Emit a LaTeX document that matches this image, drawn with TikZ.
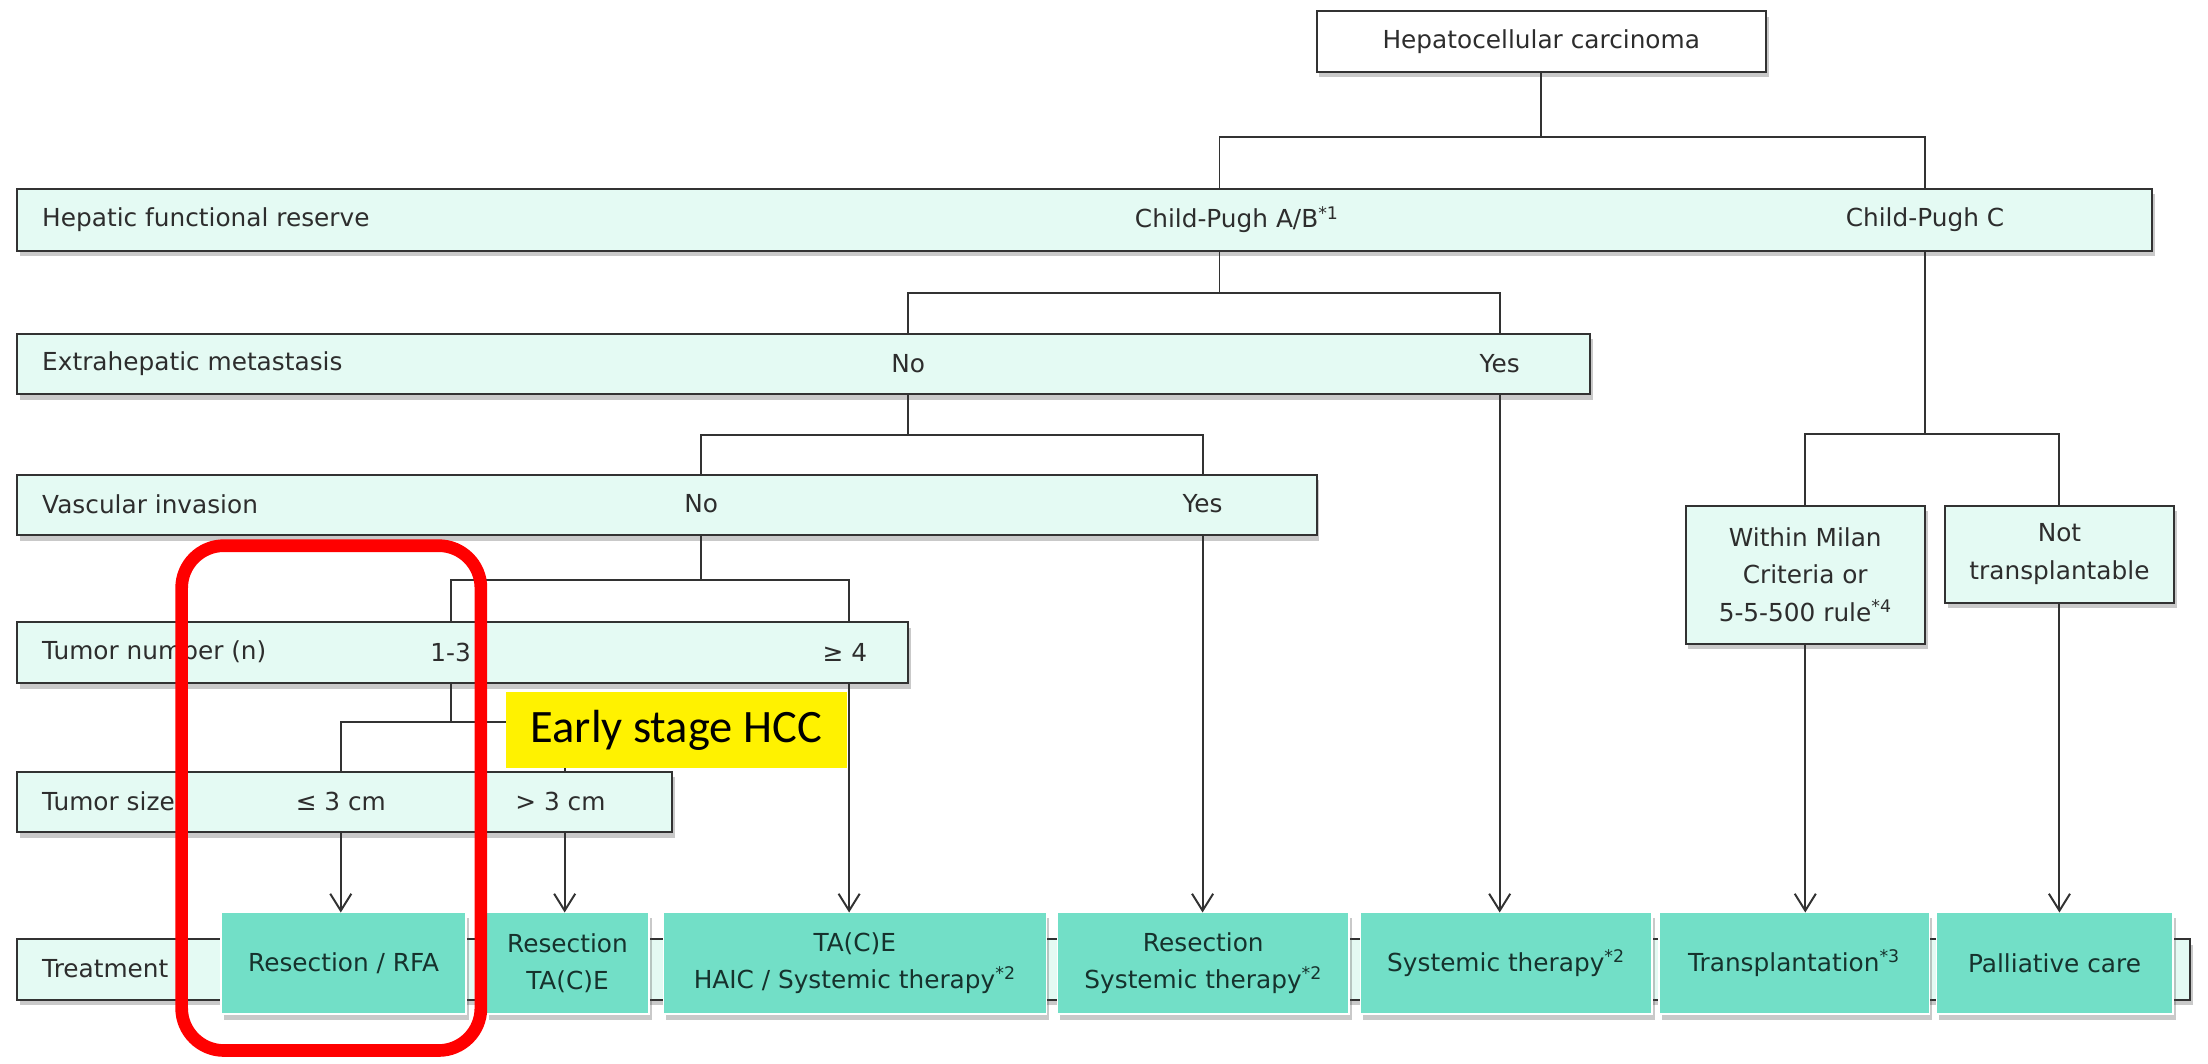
\documentclass[tikz,border=0pt]{standalone}
\usepackage{fontspec}
\setmainfont{DejaVu Sans}
\newfontfamily\calloutfont{Carlito}
\usetikzlibrary{arrows.meta,shadows}

\definecolor{barfill}{RGB}{228,250,243}
\definecolor{edgegray}{RGB}{50,50,50}
\definecolor{rowink}{RGB}{45,45,45}
\definecolor{tealbox}{RGB}{114,223,199}
\definecolor{tealink}{RGB}{22,50,45}

\begin{document}
\begin{tikzpicture}[x=1pt,y=-1pt,
  every node/.style={inner sep=0pt, outer sep=0pt},
  boxshadow/.style={drop shadow={shadow xshift=2pt, shadow yshift=-4pt, opacity=0.3, fill=black!70}},
  bar/.style={draw=edgegray, line width=1.4pt, fill=barfill, anchor=north west, boxshadow},
  decision/.style={draw=edgegray, line width=1.4pt, fill=barfill, anchor=north west, boxshadow,
    align=center, text=rowink, font=\fontsize{17.6}{26.5}\selectfont},
  rowlabel/.style={anchor=west, text=rowink, font=\fontsize{17.6}{26}\selectfont},
  choice/.style={text=rowink, font=\fontsize{17.6}{26}\selectfont},
  treat/.style={draw=white, line width=1pt, fill=tealbox, anchor=north west, boxshadow,
    minimum height=72pt, align=center, text=tealink, font=\fontsize{17.6}{26.5}\selectfont},
  link/.style={draw=edgegray, line width=1.4pt},
  arr/.style={draw=edgegray, line width=1.4pt, -{Straight Barb[length=12pt,width=15pt,line width=1.4pt]}}
]
\useasboundingbox (0,0) rectangle (1568,755);

% branch columns and bracket levels
\coordinate (xAB)  at (866,0);
\coordinate (xC)   at (1367,0);
\coordinate (xEN)  at (645,0);
\coordinate (xEY)  at (1065,0);
\coordinate (xVN)  at (498,0);
\coordinate (xVY)  at (854,0);
\coordinate (xN13) at (320,0);
\coordinate (xN4)  at (603,0);
\coordinate (xSle) at (242,0);
\coordinate (xSgt) at (401,0);
\coordinate (b0) at (0,97);
\coordinate (b1) at (0,208);
\coordinate (b2) at (0,309);
\coordinate (b3) at (0,412);
\coordinate (b4) at (0,513);
\coordinate (bC) at (0,308);

% root
\node[decision, fill=white, minimum width=319pt, minimum height=43pt] (hcc) at (935,8) {Hepatocellular carcinoma};

% decision rows
\node[bar, minimum width=1516pt, minimum height=44pt] (hfr)  at (12,134) {};
\node[bar, minimum width=1117pt, minimum height=43pt] (ext)  at (12,237) {};
\node[bar, minimum width=923pt,  minimum height=43pt] (vas)  at (12,337) {};
\node[bar, minimum width=633pt,  minimum height=43pt] (num)  at (12,442) {};
\node[bar, minimum width=465pt,  minimum height=43pt] (size) at (12,548) {};
\node[bar, minimum width=1543pt, minimum height=43pt] (trt)  at (12,667) {};

\node[rowlabel] (lhfr)  at (30,156) {Hepatic functional reserve};
\node[rowlabel] (lext)  at (30,258) {Extrahepatic metastasis};
\node[rowlabel] (lvas)  at (30,358) {Vascular invasion};
\node[rowlabel] (lnum)  at (30,463) {Tumor number (n)};
\node[rowlabel] (lsize) at (30,569) {Tumor size};
\node[rowlabel] (ltrt)  at (30,688) {Treatment};

\node[choice, anchor=west] (cab) at (806,156) {Child-Pugh A/B\textsuperscript{*1}};
\node[choice] (cc)   at (1367,156) {Child-Pugh C};
\node[choice] (eno)  at (645,258)  {No};
\node[choice] (eyes) at (1065,258) {Yes};
\node[choice] (vno)  at (498,358)  {No};
\node[choice] (vyes) at (854,358)  {Yes};
\node[choice] (n13)  at (320,463)  {1-3};
\node[choice] (n4)   at (600,463)  {≥ 4};
\node[choice] (sle)  at (242,569)  {≤ 3 cm};
\node[choice] (sgt)  at (398,569)  {> 3 cm};

% transplant branch
\node[decision, minimum width=170pt, minimum height=98pt] (milan) at (1197,359) {Within Milan\\Criteria or\\5-5-500 rule\textsuperscript{*4}};
\node[decision, minimum width=163pt, minimum height=69pt] (nt) at (1381,359) {Not\\transplantable};

% tree connectors
\draw[link] (hcc.south) -- (hcc.south |- b0);
\draw[link] (xAB |- hfr.north) |- (xC |- b0) -- (xC |- hfr.north);
\draw[link] (xAB |- hfr.south) -- (xAB |- b1);
\draw[link] (xEN |- ext.north) |- (xEY |- b1) -- (xEY |- ext.north);
\draw[link] (xEN |- ext.south) -- (xEN |- b2);
\draw[link] (xVN |- vas.north) |- (xVY |- b2) -- (xVY |- vas.north);
\draw[link] (xVN |- vas.south) -- (xVN |- b3);
\draw[link] (xN13 |- num.north) |- (xN4 |- b3) -- (xN4 |- num.north);
\draw[link] (xN13 |- num.south) -- (xN13 |- b4);
\draw[link] (xSle |- size.north) |- (xSgt |- b4) -- (xSgt |- size.north);
\draw[link] (xC |- hfr.south) -- (xC |- bC);
\draw[link] (milan.north) |- (nt.north |- bC) -- (nt.north);

% treatments
\node[treat, minimum width=174pt] (t1) at (157,648) {Resection / RFA};
\node[treat, minimum width=116pt] (t2) at (345,648) {Resection\\TA(C)E};
\node[treat, minimum width=272pt] (t3) at (471,648) {TA(C)E\\HAIC / Systemic therapy\textsuperscript{*2}};
\node[treat, minimum width=207pt] (t4) at (751,648) {Resection\\Systemic therapy\textsuperscript{*2}};
\node[treat, minimum width=207pt] (t5) at (966,648) {Systemic therapy\textsuperscript{*2}};
\node[treat, minimum width=192pt] (t6) at (1178,648) {Transplantation\textsuperscript{*3}};
\node[treat, minimum width=168pt] (t7) at (1375,648) {Palliative care};

% arrows into treatments
\draw[arr] (xSle |- size.south) -- (xSle |- t1.north);
\draw[arr] (xSgt |- size.south) -- (xSgt |- t2.north);
\draw[arr] (xN4 |- num.south) -- (xN4 |- t3.north);
\draw[arr] (xVY |- vas.south) -- (xVY |- t4.north);
\draw[arr] (xEY |- ext.south) -- (xEY |- t5.north);
\draw[arr] (milan.south) -- (milan.south |- t6.north);
\draw[arr] (nt.south) -- (nt.south |- t7.north);

% highlight
\node[fill=yellow, minimum width=242.5pt, minimum height=54pt, anchor=north west,
  font=\calloutfont\fontsize{33}{33}\selectfont] (early) at (359,491.5) {Early stage HCC};
\node[draw=red, line width=9pt, rounded corners=30pt, minimum width=212.5pt,
  minimum height=358.5pt, anchor=north west] (focus) at (129,387.5) {};
\end{tikzpicture}
\end{document}
